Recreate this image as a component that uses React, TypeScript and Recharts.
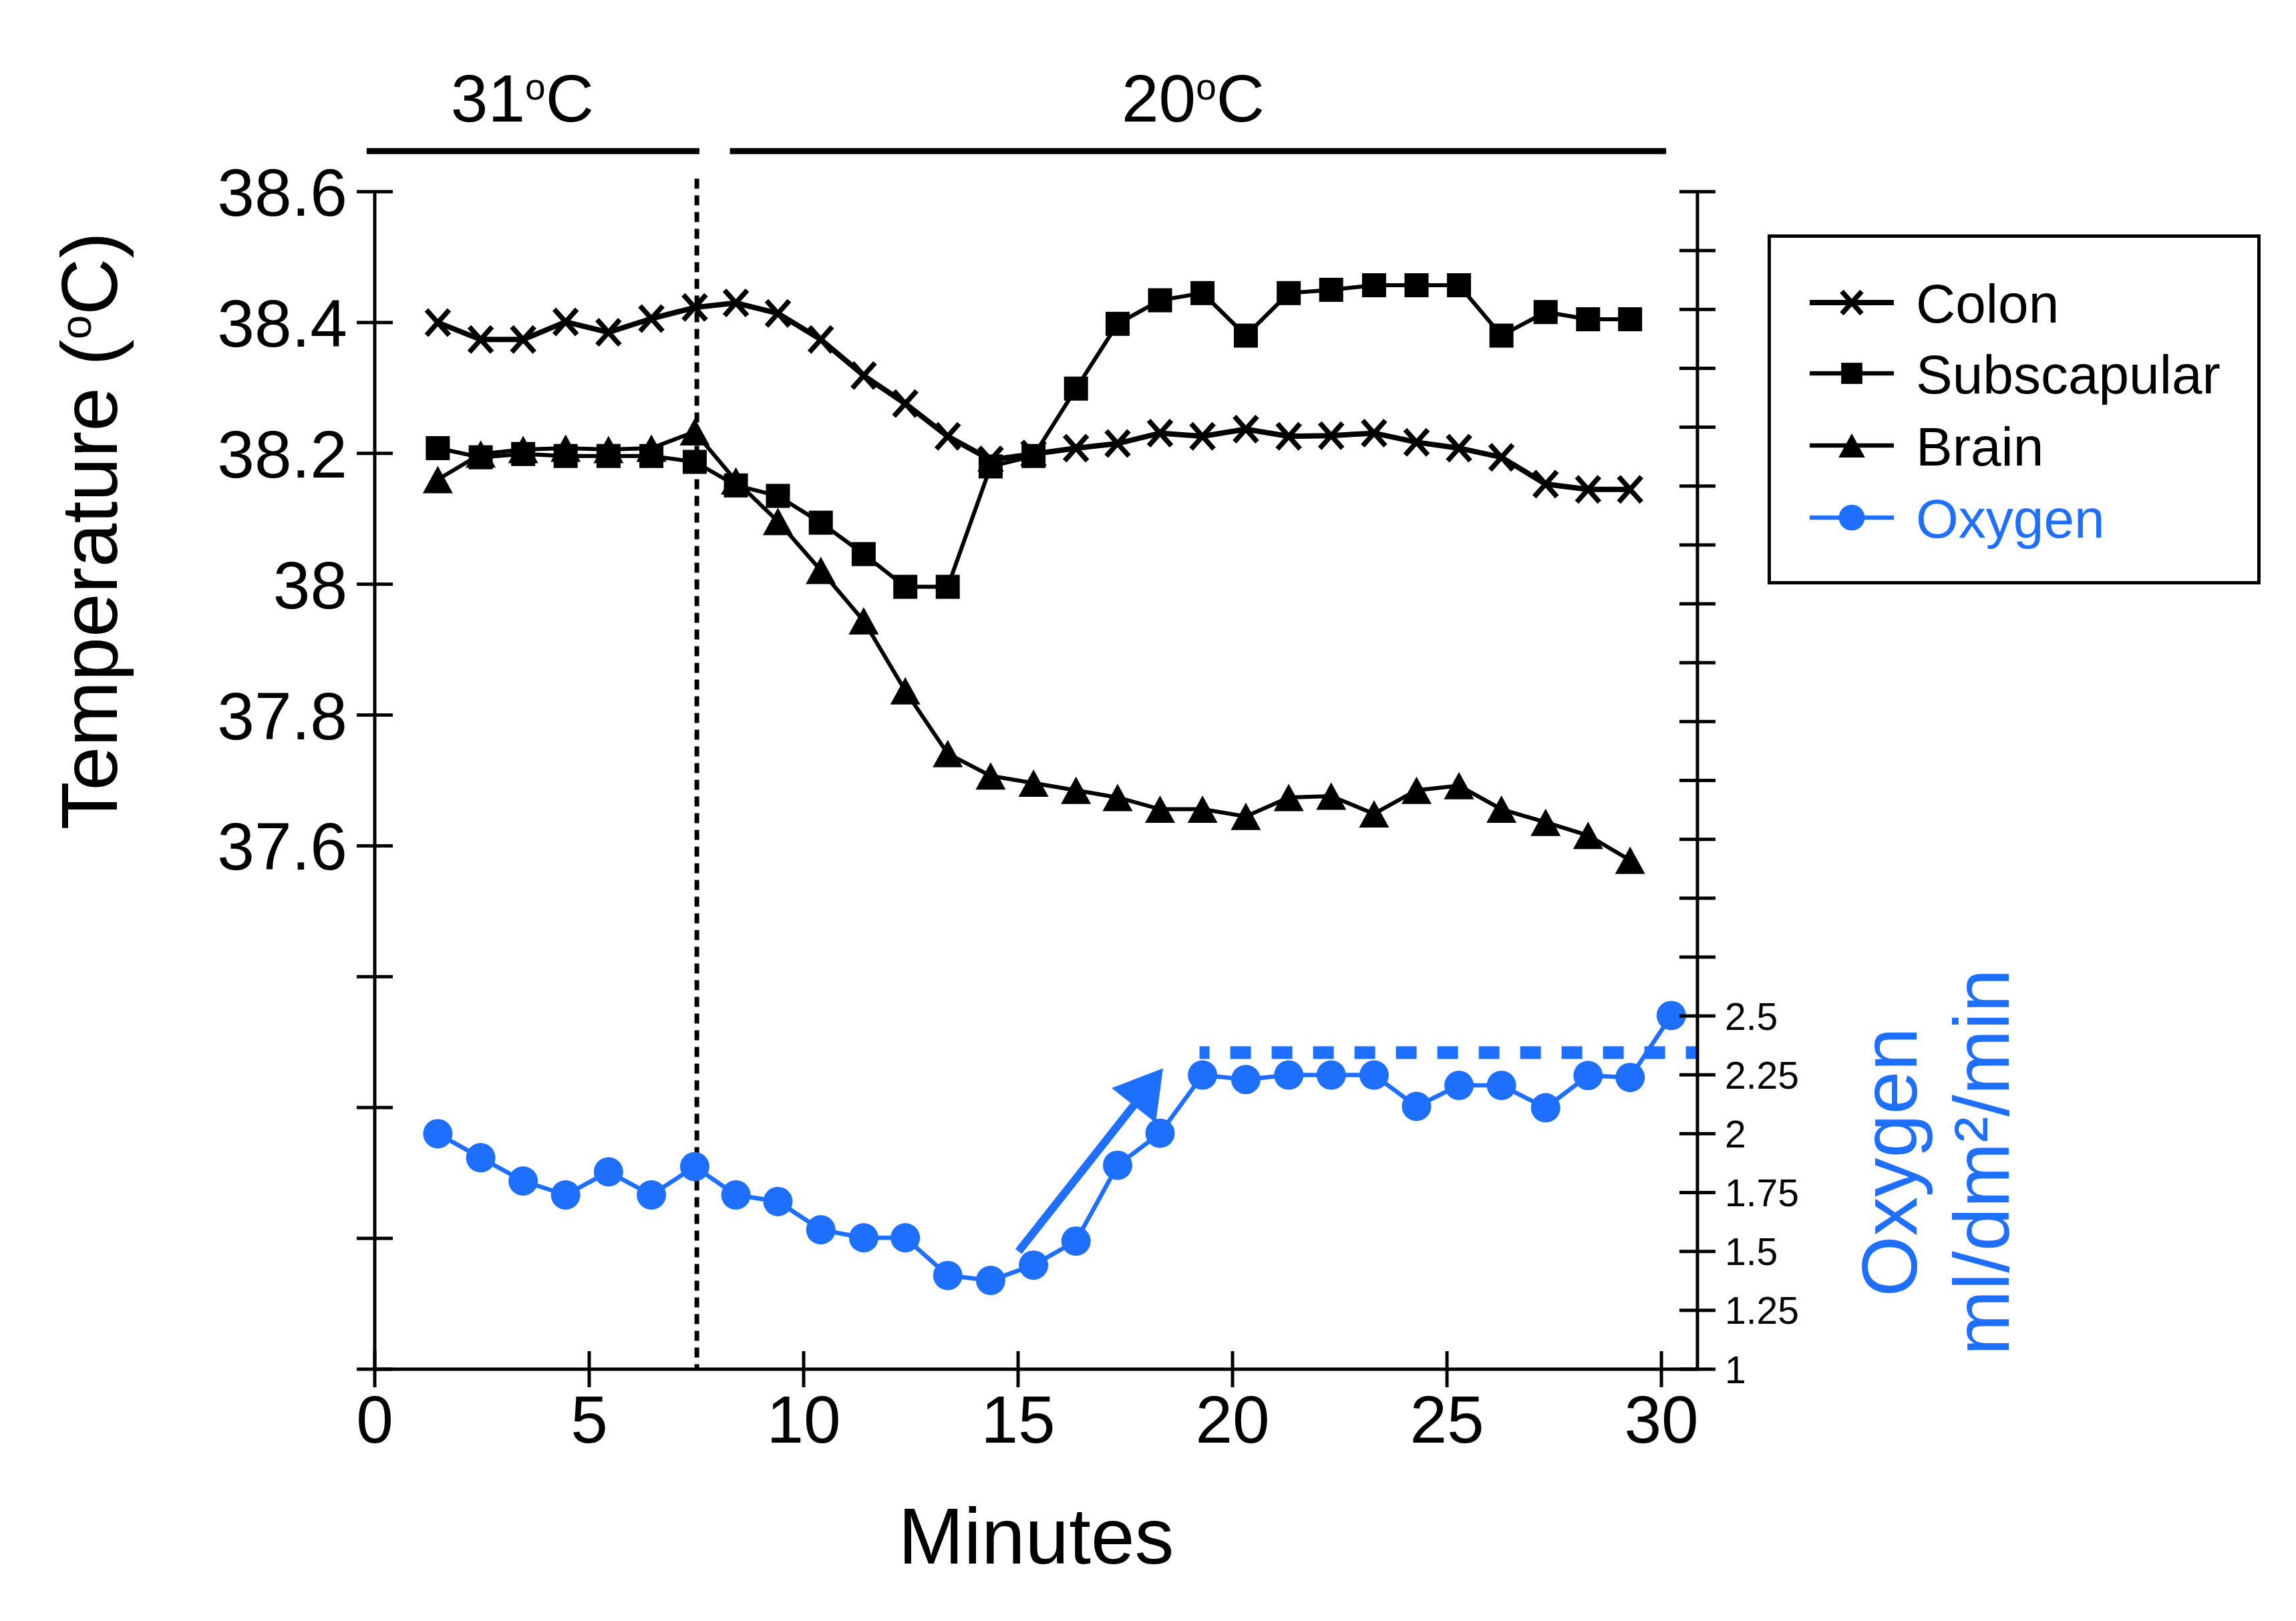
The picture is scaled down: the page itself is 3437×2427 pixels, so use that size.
import React from "react";
import {
  LineChart, Line, XAxis, YAxis, ReferenceLine, ReferenceDot, Legend,
} from "recharts";

const BLUE = "#1f6fff";
const FONT = "'Liberation Sans', Arial, Helvetica, sans-serif";

// time of each sample (minutes)
const MINUTES = [
  1.47, 2.47, 3.46, 4.45, 5.45, 6.45, 7.46, 8.42, 9.4, 10.4,
  11.4, 12.37, 13.36, 14.36, 15.36, 16.35, 17.32, 18.31, 19.3, 20.31,
  21.31, 22.3, 23.3, 24.29, 25.28, 26.27, 27.3, 28.29, 29.27, 30.23,
];

// temperatures (°C)
const COLON = [
  38.4, 38.374, 38.374, 38.401, 38.385, 38.406, 38.423, 38.43, 38.414, 38.374,
  38.319, 38.276, 38.226, 38.19, 38.199, 38.208, 38.215, 38.231, 38.226, 38.237,
  38.226, 38.227, 38.231, 38.217, 38.208, 38.194, 38.153, 38.145, 38.145,
];
const SUBSCAPULAR = [
  38.208, 38.194, 38.199, 38.196, 38.196, 38.196, 38.187, 38.151, 38.135, 38.094,
  38.046, 37.996, 37.996, 38.18, 38.196, 38.299, 38.398, 38.434, 38.445, 38.38,
  38.445, 38.45, 38.457, 38.457, 38.457, 38.38, 38.416, 38.405, 38.405,
];
const BRAIN = [
  38.16, 38.199, 38.206, 38.208, 38.206, 38.208, 38.233, 38.158, 38.096, 38.021,
  37.944, 37.837, 37.741, 37.707, 37.696, 37.685, 37.674, 37.656, 37.656, 37.645,
  37.674, 37.676, 37.649, 37.685, 37.692, 37.656, 37.636, 37.616, 37.578,
];
// oxygen consumption (ml/dm²/min)
const OXYGEN = [
  2.0, 1.898, 1.799, 1.74, 1.838, 1.74, 1.86, 1.74, 1.712, 1.592,
  1.558, 1.558, 1.398, 1.377, 1.442, 1.544, 1.866, 2.002, 2.249, 2.23,
  2.249, 2.249, 2.249, 2.116, 2.205, 2.205, 2.11, 2.247, 2.239, 2.502,
];

const X_TICKS = [0, 5, 10, 15, 20, 25, 30];
const TEMP_TICKS = [36.8, 37, 37.2, 37.4, 37.6, 37.8, 38, 38.2, 38.4, 38.6];
const TEMP_LABEL_MIN = 37.6;
const OXY_TICKS = [
  1, 1.25, 1.5, 1.75, 2, 2.25, 2.5, 2.75, 3, 3.25, 3.5,
  3.75, 4, 4.25, 4.5, 4.75, 5, 5.25, 5.5, 5.75, 6,
];
const OXY_LABEL_MAX = 2.5;

// annotations
const SWITCH_AT = 7.51;
const PHASES = [
  { temp: "31", from: -0.19, to: 7.57, textAt: 3.44 },
  { temp: "20", from: 8.28, to: 30.11, textAt: 19.08 },
];
const PHASE_BAR_Y = 38.662;
const PHASE_TEXT_Y = 38.707;
const PLATEAU = { from: 19.23, to: 30.84, level: 2.344 };
const RISE = { x1: 15.01, y1: 1.5, x2: 18.38, y2: 2.278 };

const rows = MINUTES.map((t, i) => ({
  t,
  colon: COLON[i],
  subscapular: SUBSCAPULAR[i],
  brain: BRAIN[i],
  oxygen: OXYGEN[i],
}));

const TICK = 27;
const AX = { stroke: "#000", strokeWidth: 5 };

// ---- markers
function Marker({ kind, cx, cy, s = 1 }: { kind: string; cx: number; cy: number; s?: number }) {
  if (kind === "cross") {
    const w = 17 * s, h = 19 * s;
    return <path d={`M${cx - w},${cy - h}L${cx + w},${cy + h}M${cx - w},${cy + h}L${cx + w},${cy - h}`} stroke="#000" strokeWidth={7.5} />;
  }
  if (kind === "square") {
    const a = 18 * s;
    return <rect x={cx - a} y={cy - a} width={2 * a} height={2 * a} fill="#000" />;
  }
  if (kind === "triangle") {
    const w = 22.5 * s, h = 20.5 * s;
    return <polygon points={`${cx},${cy - h} ${cx - w},${cy + h} ${cx + w},${cy + h}`} fill="#000" />;
  }
  return <circle cx={cx} cy={cy} r={22 * s} fill={BLUE} />;
}

const dotOf = (kind: string) => (p: any) => {
  const { cx, cy, index, value } = p;
  if (cx == null || cy == null || value == null) return <g key={`${kind}-${index}`} />;
  return <g key={`${kind}-${index}`}><Marker kind={kind} cx={cx} cy={cy} /></g>;
};

const SERIES = [
  { key: "colon", name: "Colon", kind: "cross", color: "#000", width: 8, axis: "t" },
  { key: "brain", name: "Brain", kind: "triangle", color: "#000", width: 6, axis: "t" },
  { key: "subscapular", name: "Subscapular", kind: "square", color: "#000", width: 6, axis: "t" },
  { key: "oxygen", name: "Oxygen", kind: "circle", color: BLUE, width: 6.5, axis: "o" },
];
const LEGEND_ORDER = ["colon", "subscapular", "brain", "oxygen"];

// ---- ticks (crossing the axis line)
function TempTick({ x, y, payload }: any) {
  const axisX = x + TICK + 14;
  const v = payload.value;
  return (
    <g>
      <line x1={axisX} x2={axisX + TICK} y1={y} y2={y} {...AX} />
      {v >= TEMP_LABEL_MIN && (
        <text x={x} y={y} dy="0.36em" textAnchor="end" fontSize={100} fontFamily={FONT} fill="#000">{String(v)}</text>
      )}
    </g>
  );
}

function OxyTick({ x, y, payload }: any) {
  const axisX = x - TICK - 14;
  const v = payload.value;
  return (
    <g>
      <line x1={axisX - TICK} x2={axisX} y1={y} y2={y} {...AX} />
      {v <= OXY_LABEL_MAX && (
        <text x={x} y={y} dy="0.36em" textAnchor="start" fontSize={57} fontFamily={FONT} fill="#000">{String(v)}</text>
      )}
    </g>
  );
}

function MinuteTick({ x, y, payload }: any) {
  const axisY = y - TICK - 11;
  return (
    <g>
      <line x1={x} x2={x} y1={axisY - TICK} y2={axisY} {...AX} />
      <text x={x} y={y} dy="0.72em" textAnchor="middle" fontSize={100} fontFamily={FONT} fill="#000">{String(payload.value)}</text>
    </g>
  );
}

// ---- titles
const minutesTitle = (p: any) => {
  const vb = p.viewBox;
  return (
    <text x={vb.x + vb.width / 2} y={2341} textAnchor="middle" fontSize={118} fontFamily={FONT} fill="#000">Minutes</text>
  );
};

const tempTitle = () => (
  <text transform="translate(175,795) rotate(-90)" textAnchor="middle" fontSize={118} fontFamily={FONT} fill="#000">
    Temperature (<tspan fontSize={65} dy={-39}>o</tspan><tspan dy={39}>C)</tspan>
  </text>
);

const oxyTitle = () => (
  <g fontSize={117} fontFamily={FONT} fill={BLUE}>
    <text transform="translate(2869,1740) rotate(-90)" textAnchor="middle">Oxygen</text>
    <text transform="translate(3007,1740) rotate(-90)" textAnchor="middle">ml/dm²/min</text>
  </g>
);

// ---- annotation shapes
const barShape = (p: any) => (
  <line x1={p.x1} y1={p.y1} x2={p.x2} y2={p.y2} stroke="#000" strokeWidth={9} />
);

const phaseText = (temp: string) => (p: any) => (
  <text x={p.cx} y={p.cy} textAnchor="middle" fontSize={100} fontFamily={FONT} fill="#000">
    {temp}<tspan fontSize={55} dy={-33}>o</tspan><tspan dy={33}>C</tspan>
  </text>
);

const arrowShape = (p: any) => {
  const { x1, y1, x2, y2 } = p;
  const dx = x2 - x1, dy = y2 - y1;
  const len = Math.hypot(dx, dy);
  const ux = dx / len, uy = dy / len;
  const bx = x2 - ux * 71, by = y2 - uy * 71;
  const nx = -uy, ny = ux;
  return (
    <g>
      <line x1={x1} y1={y1} x2={bx + ux * 4} y2={by + uy * 4} stroke={BLUE} strokeWidth={12} />
      <polygon points={`${x2},${y2} ${bx + nx * 42},${by + ny * 42} ${bx - nx * 42},${by - ny * 42}`} fill={BLUE} />
    </g>
  );
};

// ---- legend
const ROW_Y = [102, 208, 316, 424];
function LegendBox() {
  const items = LEGEND_ORDER.map((k) => SERIES.find((s) => s.key === k)!);
  return (
    <svg width={738} height={524} style={{ display: "block" }}>
      <rect x={2.5} y={2.5} width={733} height={519} fill="#fff" stroke="#000" strokeWidth={5} />
      {items.map((s, i) => (
        <g key={s.key}>
          <line x1={63} x2={189} y1={ROW_Y[i]} y2={ROW_Y[i]} stroke={s.color} strokeWidth={s.key === "colon" ? 8 : 6.5} />
          <Marker kind={s.kind} cx={126} cy={ROW_Y[i]} s={0.88} />
          <text x={222} y={ROW_Y[i]} dy="0.36em" fontSize={82} fontFamily={FONT} fill={s.color}>{s.name}</text>
        </g>
      ))}
    </svg>
  );
}

export default function App() {
  return (
    <div style={{ position: "absolute", left: 0, top: 0, width: 3437, height: 2427, background: "#fff" }}>
      <LineChart width={3437} height={2427} data={rows} margin={{ top: 287, right: 696, bottom: 227, left: 361 }}>
        <XAxis
          type="number" dataKey="t" domain={[0, 30.84]} ticks={X_TICKS} interval={0}
          height={150} tickSize={TICK} tickMargin={11} axisLine={AX} tickLine={AX}
          tick={(p: any) => <MinuteTick {...p} />} label={minutesTitle}
        />
        <YAxis
          yAxisId="t" orientation="left" domain={[36.8, 38.6]} ticks={TEMP_TICKS} interval={0}
          width={200} tickSize={TICK} tickMargin={14} axisLine={AX} tickLine={AX}
          tick={(p: any) => <TempTick {...p} />} label={tempTitle}
        />
        <YAxis
          yAxisId="o" orientation="right" domain={[1, 6]} ticks={OXY_TICKS} interval={0}
          width={200} tickSize={TICK} tickMargin={14} axisLine={AX} tickLine={AX}
          tick={(p: any) => <OxyTick {...p} />} label={oxyTitle}
        />

        {/* 31 °C -> 20 °C switch */}
        <ReferenceLine
          yAxisId="t" ifOverflow="visible"
          segment={[{ x: SWITCH_AT, y: 38.62 }, { x: SWITCH_AT, y: 36.8 }]}
          stroke="#000" strokeWidth={7} strokeDasharray="15 10"
        />
        {PHASES.map((ph) => (
          <ReferenceLine
            key={`bar-${ph.temp}`} yAxisId="t" ifOverflow="visible"
            segment={[{ x: ph.from, y: PHASE_BAR_Y }, { x: ph.to, y: PHASE_BAR_Y }]}
            shape={barShape}
          />
        ))}
        {PHASES.map((ph) => (
          <ReferenceDot
            key={`txt-${ph.temp}`} yAxisId="t" ifOverflow="visible"
            x={ph.textAt} y={PHASE_TEXT_Y} r={0} shape={phaseText(ph.temp)}
          />
        ))}

        {/* oxygen plateau and rise */}
        <ReferenceLine
          yAxisId="o" ifOverflow="visible"
          segment={[{ x: PLATEAU.from, y: PLATEAU.level }, { x: PLATEAU.to, y: PLATEAU.level }]}
          stroke={BLUE} strokeWidth={19} strokeDasharray="31 31" strokeDashoffset={16}
        />
        <ReferenceLine
          yAxisId="o" ifOverflow="visible"
          segment={[{ x: RISE.x1, y: RISE.y1 }, { x: RISE.x2, y: RISE.y2 }]}
          shape={arrowShape}
        />

        {SERIES.map((s) => (
          <Line
            key={s.key} yAxisId={s.axis} dataKey={s.key} name={s.name}
            stroke={s.color} strokeWidth={s.width} dot={dotOf(s.kind)} activeDot={false}
            isAnimationActive={false}
          />
        ))}

        <Legend
          layout="vertical" align="center" verticalAlign="middle"
          wrapperStyle={{ left: 2646, top: 351, width: 738, height: 524 }}
          content={() => <LegendBox />}
        />
      </LineChart>
    </div>
  );
}
